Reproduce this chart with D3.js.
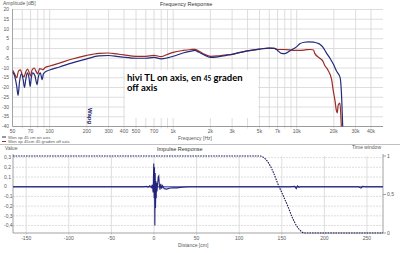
<!DOCTYPE html>
<html><head><meta charset="utf-8">
<script src="https://cdn.jsdelivr.net/npm/d3@7"></script>
<style>
html,body{margin:0;padding:0;background:#fff;}
svg{display:block;font-family:"Liberation Sans",Arial,sans-serif;}
</style></head>
<body>
<script>
// ---------- DATA ----------
const freqTicks = [50,70,100,200,300,400,500,700,1000,2000,3000,5000,7000,10000,20000,30000,40000];
const freqTickLabels = ["50","70","100","200","300","400","500","700","1k","2k","3k","5k","7k","10k","20k","30k","40k"];
const freqGrid = [60,70,80,90,100,200,300,400,500,600,700,800,900,1000,2000,3000,4000,5000,6000,7000,8000,9000,10000,20000,30000,40000];
const dbTicks = [20,15,10,5,0,-5,-10,-15,-20,-25,-30,-35,-40];

const onAxisFreq = [50,52,54,55.5,57,59,61,62.5,64,66,68,69.5,71,73,76,79,81,84,87,89,95,100,120,150,200,250,300,350,400,500,600,700,800,900,1000,1200,1400,1500,1600,1800,2000,2300,2700,3000,3500,4000,5000,6000,6600,7000,7500,8000,8900,9900,10600,11500,12500,13700,14900,15400,16300,17300,18600,19800,21000,22000,22500,23000,23600,24200];
const onAxisDb   = [-12,-14,-19,-24,-17,-13,-16,-20,-16,-12.5,-15,-19.5,-15,-12.5,-14,-18.5,-14.5,-12.5,-16,-13,-11.5,-11,-9.5,-7.5,-5.3,-3.8,-3.6,-4,-4.5,-5,-5,-4.6,-5.3,-4.8,-4,-2.3,-1.3,-1.0,-1.8,-3.5,-4.6,-4.3,-3.5,-3.0,-2.0,-1.2,-0.3,0.2,0.1,-1,-2.5,-2.6,-1,0.7,2.4,3.2,3.4,3.3,2.6,2.2,0.7,-2,-5,-8,-11.5,-13.5,-15,-22,-40,-55];

const offAxisFreq = [50,52,54,56,58,60,62,64,66,68,70,72,75,78,80,83,88,92,100,120,150,200,250,300,350,400,500,600,700,800,900,1000,1200,1400,1500,1600,1800,2000,2300,2700,3000,3500,4000,5000,6000,6600,7000,8000,9400,10600,12000,13000,13700,14000,15400,16300,16900,17900,19200,19700,20400,21000,21300,21700,22400,23000,23400];
const offAxisDb   = [-11,-13,-15,-11.5,-11,-13.5,-14.5,-12,-10.5,-12,-14,-11,-10,-12,-13,-10.3,-10.8,-9.8,-9,-7.5,-5.5,-3.5,-2.5,-2.3,-2.8,-3.3,-4,-4,-3.5,-4.2,-3,-2,-1,-0.5,-0.4,-1.2,-3,-4,-3.8,-3.2,-3,-2,-1.2,-0.3,0.2,0.1,-0.5,-0.5,-1,-1,-0.6,-0.5,-0.8,-2.5,-5,-6.5,-8.7,-11,-16,-21,-26.5,-32,-33,-29,-28,-40,-50];

const legendLabels = ["Wen op 45 cm on axis","Wen op 45cm 45 graden off axis"];

const distTicks = [-150,-100,-50,0,50,100,150,200,250];
const valueTicks = [0.3,0.2,0.1,0,-0.1,-0.2,-0.3,-0.4];
const windowTicks = [1,0.5,0];
const windowTickLabels = ["1","0,5","0"];

const impulseDist = [-165.5,-12,-9,-7,-5,-3,-2,-1,-0.3,0.2,0.6,1,1.4,1.8,2.2,2.6,3,3.5,4.2,5,5.6,6.3,7,8,9,10,12,15,18,22,27,33,40,60,100,160,165,167,168.5,170,172,240,243,245,248,268.8];
const impulseVal  = [0,0,0.005,-0.005,0.01,-0.01,0.02,-0.06,0.24,-0.12,0.2,-0.4,0.14,-0.22,0.06,-0.12,0.04,-0.05,0.02,0.1,0.11,0.02,-0.03,0.03,-0.02,0.01,-0.02,-0.025,-0.015,-0.01,-0.012,-0.005,0,0,0,0,0.005,-0.02,0.008,-0.005,0,0,-0.015,0.005,0,0];

const windowDist = [-165.5,124,130,135,140,145,151,157,162,167,172,176,268.8];
const windowVal  = [1,1,0.97,0.9,0.79,0.65,0.5,0.35,0.21,0.1,0.03,0,0];

// ---------- DRAW ----------
const W = 400, H = 253;
const svg = d3.select("body").append("svg").attr("width",W).attr("height",H);
const gridCol = "#d6d6d6", axisCol = "#8a8a8a", txtCol = "#5a5a5a";
const blue = "#232a7c", red = "#9a2b25";
const fs = 5;

// ===== TOP: frequency response =====
const xF = d3.scaleLog().domain([50,50000]).range([12.5,383]);
const yA = d3.scaleLinear().domain([-40,20]).range([126.5,9.5]);

const gTop = svg.append("g");
gTop.selectAll("line.hg").data(dbTicks).join("line")
  .attr("x1",12.5).attr("x2",383).attr("y1",d=>yA(d)).attr("y2",d=>yA(d))
  .attr("stroke",gridCol).attr("stroke-width",0.8);
gTop.selectAll("line.vg").data(freqGrid).join("line")
  .attr("x1",d=>xF(d)).attr("x2",d=>xF(d)).attr("y1",9.5).attr("y2",128.5)
  .attr("stroke",gridCol).attr("stroke-width",0.8);

// white annotation box
gTop.append("rect").attr("x",125).attr("y",70).attr("width",133).attr("height",48).attr("fill","#fff");

// axes lines
gTop.append("line").attr("x1",12.5).attr("x2",12.5).attr("y1",9).attr("y2",126.5).attr("stroke",axisCol).attr("stroke-width",0.8);
gTop.append("line").attr("x1",12.5).attr("x2",383).attr("y1",126.5).attr("y2",126.5).attr("stroke",axisCol).attr("stroke-width",0.8);

// y labels
gTop.selectAll("text.yl").data(dbTicks).join("text")
  .attr("x",9).attr("y",d=>yA(d)+1.7).attr("text-anchor","end")
  .attr("font-size",fs).attr("fill",txtCol).text(d=>d);
// x labels
gTop.selectAll("text.xl").data(freqTicks).join("text")
  .attr("x",d=>xF(d)).attr("y",132.5).attr("text-anchor","middle")
  .attr("font-size",fs).attr("fill",txtCol).text((d,i)=>freqTickLabels[i]);

gTop.append("text").attr("x",3).attr("y",5).attr("font-size",fs).attr("fill",txtCol).text("Amplitude [dB]");
gTop.append("text").attr("x",160).attr("y",6).attr("font-size",fs+0.5).attr("fill","#333").text("Frequency Response");
gTop.append("text").attr("x",178).attr("y",140).attr("font-size",fs).attr("fill",txtCol).text("Frequency [Hz]");

// curves
svg.append("clipPath").attr("id","cpTop").append("rect").attr("x",12.5).attr("y",9).attr("width",371).attr("height",117.5);
const lineF = (fr, db) => d3.line().x((d,i)=>xF(fr[i])).y(d=>yA(d)).curve(d3.curveMonotoneX)(db);
const cg = gTop.append("g").attr("clip-path","url(#cpTop)");
cg.append("path").attr("d",lineF(offAxisFreq,offAxisDb)).attr("fill","none").attr("stroke",red).attr("stroke-width",1.2);
cg.append("path").attr("d",lineF(onAxisFreq,onAxisDb)).attr("fill","none").attr("stroke",blue).attr("stroke-width",1.2);

// marker text
gTop.append("text").attr("transform",`translate(${xF(205)},108) rotate(90)`)
  .attr("font-size",6).attr("font-weight","bold").attr("fill","#1a1a60").text("Wapg");

// annotation
const ann = gTop.append("text").attr("x",127).attr("y",81).attr("font-family","Lato, 'DejaVu Sans', sans-serif")
  .attr("font-weight","bold").attr("font-size",9.5).attr("fill","#000");
ann.append("tspan").text("hivi TL on axis, en ");
ann.append("tspan").attr("font-size",6.5).text("45");
ann.append("tspan").text(" graden");
gTop.append("text").attr("x",127).attr("y",91).attr("font-family","Lato, 'DejaVu Sans', sans-serif")
  .attr("font-weight","bold").attr("font-size",9.5).attr("fill","#000").text("off axis");

// legend
const lg = svg.append("g");
[blue, red].forEach((c,i)=>{
  lg.append("line").attr("x1",2).attr("x2",6).attr("y1",137+i*4.5).attr("y2",137+i*4.5).attr("stroke",c).attr("stroke-width",1);
  lg.append("text").attr("x",8).attr("y",138.5+i*4.5).attr("font-size",4.3).attr("fill",txtCol).text(legendLabels[i]);
});

// separator
svg.append("line").attr("x1",0).attr("x2",400).attr("y1",144.5).attr("y2",144.5).attr("stroke","#b0b0b0").attr("stroke-width",0.8);

// ===== BOTTOM: impulse response =====
const xD = d3.scaleLinear().domain([-165.5,268.8]).range([13,383]);
const yV = d3.scaleLinear().domain([-0.477,0.3165]).range([233,156]);
const yW = d3.scaleLinear().domain([0,1]).range([233,156]);

const bot = svg.append("g");
bot.selectAll("line.hg").data(valueTicks).join("line")
  .attr("x1",13).attr("x2",383).attr("y1",d=>yV(d)).attr("y2",d=>yV(d))
  .attr("stroke",gridCol).attr("stroke-width",0.8).attr("stroke-dasharray","2,1");
bot.selectAll("line.vg").data(distTicks).join("line")
  .attr("x1",d=>xD(d)).attr("x2",d=>xD(d)).attr("y1",156).attr("y2",235)
  .attr("stroke",gridCol).attr("stroke-width",0.8);

bot.append("line").attr("x1",13).attr("x2",13).attr("y1",154).attr("y2",233).attr("stroke",axisCol).attr("stroke-width",0.8);
bot.append("line").attr("x1",13).attr("x2",383).attr("y1",233).attr("y2",233).attr("stroke",axisCol).attr("stroke-width",0.8);
bot.append("line").attr("x1",383).attr("x2",383).attr("y1",154).attr("y2",233).attr("stroke",axisCol).attr("stroke-width",0.8);

bot.selectAll("text.yl").data(valueTicks).join("text")
  .attr("x",4).attr("y",d=>yV(d)+1.7).attr("font-size",fs).attr("fill",txtCol)
  .text(d=>d===0?"0":String(d).replace(".",","));
bot.selectAll("text.xl").data(distTicks).join("text")
  .attr("x",d=>xD(d)).attr("y",240).attr("text-anchor","middle")
  .attr("font-size",fs).attr("fill",txtCol).text(d=>d);
bot.selectAll("line.rt").data(windowTicks).join("line")
  .attr("x1",383).attr("x2",386).attr("y1",d=>yW(d)).attr("y2",d=>yW(d)).attr("stroke",axisCol).attr("stroke-width",0.8);
bot.selectAll("text.rl").data(windowTicks).join("text")
  .attr("x",387).attr("y",d=>yW(d)+1.7).attr("font-size",fs).attr("fill",txtCol).text((d,i)=>windowTickLabels[i]);

bot.append("text").attr("x",5).attr("y",150).attr("font-size",fs).attr("fill",txtCol).text("Value");
bot.append("text").attr("x",157).attr("y",151).attr("font-size",fs+0.5).attr("fill","#333").text("Impulse Response");
bot.append("text").attr("x",352).attr("y",149).attr("font-size",fs).attr("fill",txtCol).text("Time window");
bot.append("text").attr("x",178).attr("y",246.5).attr("font-size",fs).attr("fill",txtCol).text("Distance [cm]");

// zero baseline
bot.append("line").attr("x1",13).attr("x2",383).attr("y1",yV(0)).attr("y2",yV(0)).attr("stroke","#7070b8").attr("stroke-width",1.4);

// window
bot.append("path").attr("d",d3.line().x((d,i)=>xD(windowDist[i])).y(d=>yW(d)).curve(d3.curveMonotoneX)(windowVal))
  .attr("fill","none").attr("stroke","#1a1a5a").attr("stroke-width",1.1).attr("stroke-dasharray","1.6,1");

// impulse
bot.append("path").attr("d",d3.line().x((d,i)=>xD(impulseDist[i])).y(d=>yV(d))(impulseVal))
  .attr("fill","none").attr("stroke","#24247e").attr("stroke-width",1.1);
</script>
</body></html>
